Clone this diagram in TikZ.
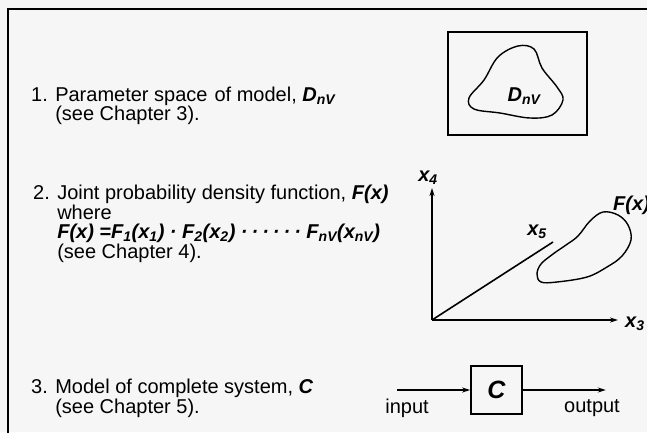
\documentclass[tikz,border=0pt]{standalone}
\usepackage{fontspec}
\setmainfont{Liberation Sans}
\usetikzlibrary{arrows.meta, positioning}
\definecolor{paper}{HTML}{F6F6F6}
\newcommand{\bi}[1]{{\bfseries\itshape #1}}
\newcommand{\sbs}[1]{\textsubscript{#1}}
\newcommand{\dotrun}{·\hspace{4pt}·\hspace{4pt}·\hspace{4pt}·\hspace{4pt}·\hspace{4pt}·}

\begin{document}
\begin{tikzpicture}[
    x=1pt, y=-1pt,
    font=\fontsize{20}{18}\selectfont,
    item/.style={anchor=west, align=left, inner sep=0pt},
    frame/.style={line width=2pt},
    region/.style={line width=1.4pt},
    sysbox/.style={draw, line width=1.6pt, minimum width=51pt, minimum height=48pt, inner sep=0pt},
    flow/.style={-{Stealth[length=8pt, width=5pt]}, line width=1.6pt},
    axlabel/.style={inner sep=0pt}
  ]

  \fill[paper] (0,0) rectangle (647,432);
  \useasboundingbox (0,0) rectangle (647,432);
  \draw[frame] (8,440) -- (8,9) -- (660,9);

  % 1. parameter space
  \node[item] (item1) at (31,106) {1. Parameter space\hspace{7pt}of model, \bi{D\sbs{nV}}\\
    \hphantom{1. }(see Chapter 3).};
  \node[draw, frame, minimum width=139pt, minimum height=103pt] (pbox) at (517.5,83.5) {};
  \draw[region] plot[smooth cycle, tension=0.6] coordinates {(518,46) (534,49) (542,68) (557,87) (563,100)
    (552,115) (530,118) (500,113) (474,109) (469,98) (484,80) (498,57)};
  \node (dlabel) at (524,96) {\bi{D\sbs{nV}}};

  % 2. joint density
  \node[item] (item2) at (33,224) {2. Joint probability density function, \bi{F(x)}\\
    \hphantom{2. }where\\[1pt]
    \hphantom{2. }\bi{F(x) =F\sbs{1}(x\sbs{1}) · F\sbs{2}(x\sbs{2}) \dotrun\ F\sbs{nV}(x\sbs{nV})}\\[1pt]
    \hphantom{2. }(see Chapter 4).};
  \coordinate (origin) at (432,320);
  \coordinate (x4tip) at (432,188);
  \coordinate (x3tip) at (618,320);
  \coordinate (x5end) at (553,242);
  \draw[flow] (origin) -- (x4tip);
  \draw[flow] (origin) -- (x3tip);
  \draw[line width=1.6pt] (origin) -- (x5end);
  \node[axlabel] (x4lab) at (428,178) {\bi{x\sbs{4}}};
  \node[axlabel] (x5lab) at (537,232) {\bi{x\sbs{5}}};
  \node[axlabel, anchor=west] (x3lab) at (625,324) {\bi{x\sbs{3}}};
  \draw[region] plot[smooth cycle, tension=0.6] coordinates {(603,212) (618,215) (628,225) (631,240) (622,256)
    (607,267) (587,277) (557,282) (541,282) (537,274) (541,264) (553,254) (566,245) (578,236) (590,221)};
  \node[axlabel, anchor=west] (flab) at (613,205) {\bi{F(x)}};

  % 3. complete system
  \node[item] (item3) at (31,398) {3. Model of complete system, \bi{C}\\
    \hphantom{3. }(see Chapter 5).};
  \node[sysbox, font=\fontsize{25}{25}\selectfont] (cbox) at (496.5,390) {\bi{C}};
  \coordinate[left=73pt of cbox] (insrc);
  \coordinate[right=83pt of cbox] (outdst);
  \draw[flow] (insrc) -- (cbox.west);
  \draw[flow] (cbox.east) -- (outdst);
  \node (inlab) at (407,408) {input};
  \node (outlab) at (592,408) {output};
\end{tikzpicture}
\end{document}
